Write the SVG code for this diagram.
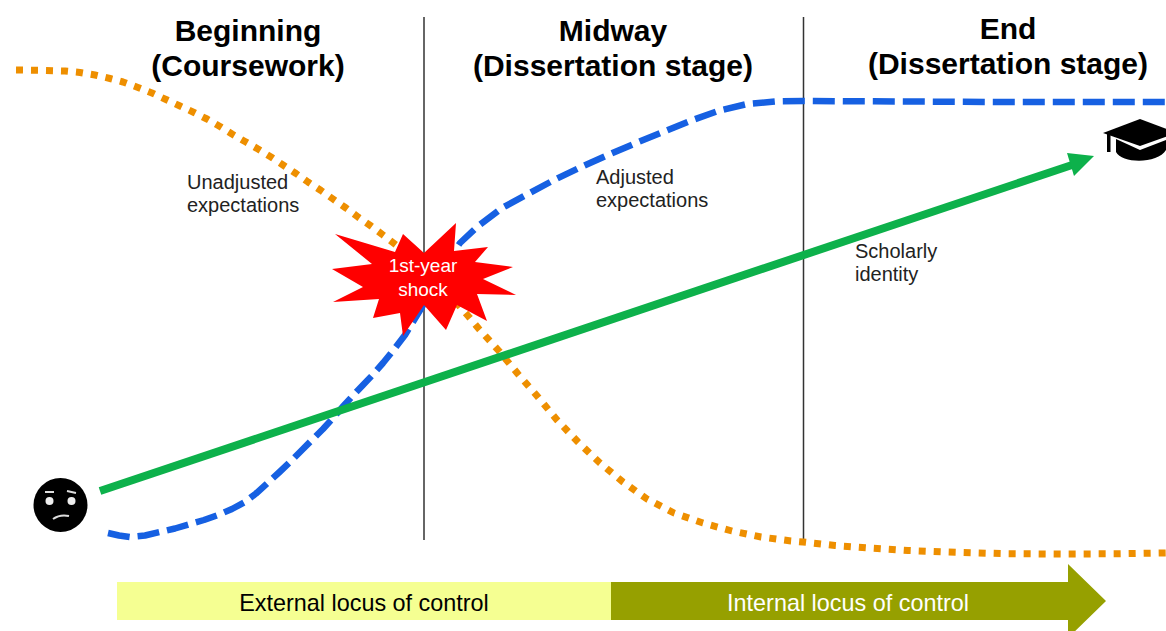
<svg xmlns="http://www.w3.org/2000/svg" width="1166" height="631" viewBox="0 0 1166 631">
<style>
text{font-family:"Liberation Sans",Arial,sans-serif;text-anchor:middle}
.h{font-size:30px;font-weight:bold;fill:#000}
.l{font-size:20px;fill:#222;text-anchor:start}
.b{font-size:23.400px}
.v{stroke:#333;stroke-width:1.500;fill:none}
.c{fill:none;stroke-linejoin:round}
</style>
<rect width="1166" height="631" fill="#fff"/>
<g id="connectors">
<line class="v" x1="424" y1="17" x2="424" y2="540"/>
<line class="v" x1="803.500" y1="17" x2="803.500" y2="540"/>
<path id="unadjusted" class="c" d="M16 70L40 70.300L65 71L80 72.500L95 75L110 78.500L123 82L138 87.500L152 93L166 99.500L180 106L194 112.500L207 119L220 126.500L232 134L245 141.500L258 149L271 157L283 165L296 173.500L308 182L321 190.500L333 199L346 208L358 217L371 226L383 235L404 251L425 268L447 292L469 317L479 329L499 351L518 374L538 397L557 420L578 442L600 463L623 482L647 499L674 513L703 523L732 531L761 537L791 541L803 542L835 545.500L869 548L908 550.500L947 552L1005 553.700L1062 554L1115 553.800L1166 553" stroke="#ee8f00" stroke-width="7" stroke-dasharray="7 8"/>
<path id="adjusted" class="c" d="M108 533L119 535.500L130 537L145 535.500L160 532L175 528.500L190 524L204 520L218 515L232 509L245 502L256 493.500L267 483.500L279 472.500L290 462L301 451L312 440L323 429L333 418L343 406.500L353 395.500L363 385L373 374.500L383 363L392 352L405 335L422 307L440 272L460 243L477 227L502 208L528 194L554 180L581 167L608 155L636 143L663 132L690 121L718 111L747 104L775 101.500L803 101L900 101.500L1000 102L1166 102" stroke="#1660e2" stroke-width="6.500" stroke-dasharray="22 8"/>
<line id="identity" x1="100" y1="491" x2="1072" y2="165" stroke="#0db14b" stroke-width="8"/>
<polygon points="1094,156 1067,153 1074,176" fill="#0db14b"/>
</g>
<g id="header-beginning"><text class="h" x="248" y="41">Beginning</text><text class="h" x="248" y="76">(Coursework)</text></g>
<g id="header-midway"><text class="h" x="613" y="41">Midway</text><text class="h" x="613" y="76">(Dissertation stage)</text></g>
<g id="header-end"><text class="h" x="1008" y="39">End</text><text class="h" x="1008" y="74">(Dissertation stage)</text></g>
<g id="label-unadjusted"><text class="l" x="187" y="189">Unadjusted</text><text class="l" x="187" y="212">expectations</text></g>
<g id="label-adjusted"><text class="l" x="596" y="184">Adjusted</text><text class="l" x="596" y="207">expectations</text></g>
<g id="label-identity"><text class="l" x="855" y="258">Scholarly</text><text class="l" x="855" y="281">identity</text></g>
<g id="shock">
<polygon fill="#ff0000" points="335,234 395,252 403,234 424,253 456,223 454,251 488,247 475,262 513,267 483,279 516,295 477,294 487,321 457,305 446,330 424,305 403,336 400,313 373,318 379,299 333,302 363,287 332,269 372,264"/>
<text x="423" y="272" font-size="19" fill="#fff">1st-year</text>
<text x="423" y="296" font-size="19" fill="#fff">shock</text>
</g>
<g id="face">
<circle cx="60.500" cy="505" r="27" fill="#000"/>
<circle cx="49.500" cy="501" r="4" fill="#eee"/>
<circle cx="71.500" cy="501" r="4" fill="#eee"/>
<path d="M45 492H54M67 491L76 493" stroke="#ddd" stroke-width="2" fill="none"/>
<path d="M53 519Q60 514 69 516" stroke="#ddd" stroke-width="2" fill="none"/>
</g>
<g id="cap">
<path d="M1140 119L1103 133L1140 146L1177 133Z" fill="#000"/>
<path d="M1116 139V152C1122 164 1158 164 1166 150V140L1140 150Z" fill="#000"/>
<rect x="1107" y="134" width="3.500" height="18" fill="#000"/>
</g>
<g id="locus-external">
<rect x="117" y="582" width="494" height="38" fill="#f5ff92"/>
<text class="b" x="364" y="611" fill="#000">External locus of control</text>
</g>
<g id="locus-internal">
<polygon points="611,582 1068,582 1068,564 1106,601 1068,638 1068,620 611,620" fill="#96a000"/>
<text class="b" x="848" y="611" fill="#fff">Internal locus of control</text>
</g>
</svg>
